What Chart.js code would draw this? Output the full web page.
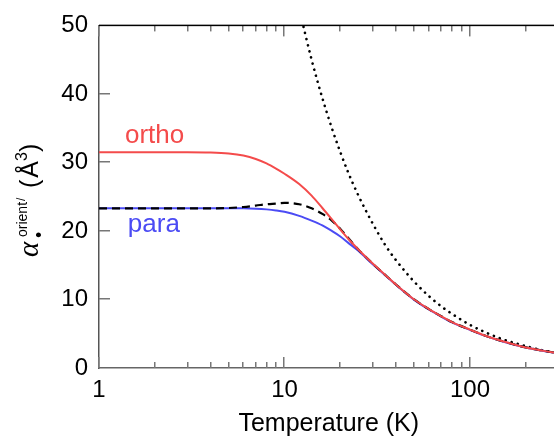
<!DOCTYPE html>
<html>
<head>
<meta charset="utf-8">
<script src="https://cdn.jsdelivr.net/npm/chart.js@4"></script>
<style>
    html, body { margin: 0; padding: 0; background: #fff; overflow: hidden; }
    #wrap { position: relative; width: 560px; height: 439px; }
</style>
</head>
<body>
<div id="wrap"><canvas id="alphaChart"></canvas></div>
<script>
// temperatures (K) shared by the three quantum curves
const temps = [1, 2, 3, 4, 5, 6, 7, 8, 9, 10, 12, 14, 16, 18, 20, 22, 25, 30, 35, 40, 50, 60, 70, 80, 100, 120, 150, 200, 250, 300];
const ortho = [31.5, 31.5, 31.5, 31.45, 31.3, 31.0, 30.5, 29.85, 29.1, 28.35, 26.85, 25.15, 23.35, 21.7, 20.2, 18.9, 17.3, 15.2, 13.55, 12.15, 10.0, 8.6, 7.55, 6.7, 5.6, 4.75, 3.9, 3.0, 2.5, 2.15];
const para = [23.3, 23.3, 23.3, 23.3, 23.3, 23.3, 23.25, 23.15, 23.0, 22.8, 22.2, 21.5, 20.8, 20.0, 19.2, 18.3, 17.1, 15.1, 13.5, 12.1, 9.95, 8.55, 7.5, 6.65, 5.56, 4.72, 3.87, 2.98, 2.48, 2.13];
const total = [23.3, 23.3, 23.3, 23.3, 23.35, 23.5, 23.7, 23.9, 24.0, 24.1, 23.9, 23.3, 22.5, 21.5, 20.3, 19.0, 17.3, 15.2, 13.55, 12.15, 10.0, 8.6, 7.55, 6.7, 5.6, 4.75, 3.9, 3.0, 2.5, 2.15];

// classical (dotted) curve
const classicalTemps = [12, 13, 14, 15, 16, 18, 20, 22, 25, 30, 35, 40, 50, 60, 70, 80, 100, 120, 150, 200, 250, 300];
const classical = [52.5, 48.5, 45.0, 42.0, 39.4, 35.0, 31.5, 28.6, 25.2, 21.0, 17.9, 15.7, 12.6, 10.5, 9.0, 7.9, 6.3, 5.25, 4.2, 3.2, 2.55, 2.2];

const xMajorTicks = [1, 10, 100];
const xMinorTicks = [2, 3, 4, 5, 6, 7, 8, 9, 20, 30, 40, 50, 60, 70, 80, 90, 200, 300];
const yTicks = [0, 10, 20, 30, 40, 50];

// curve labels: [text, T, value, colour]
const curveLabels = [
    ['ortho', 1.38, 32.9, '#f44b4b'],
    ['para', 1.43, 19.8, '#4b4bf4']
];

const FONT = "'Liberation Sans', Arial, sans-serif";

function pairs(xs, ys) {
    return xs.map((x, i) => ({ x: x, y: ys[i] }));
}

function drawTicks(chart) {
    const ctx = chart.ctx;
    const area = chart.chartArea;
    const xs = chart.scales.x;
    const ys = chart.scales.y;
    ctx.save();
    ctx.setLineDash([]);
    ctx.globalAlpha = 1;
    ctx.fillStyle = '#777777';
    xMajorTicks.concat(xMinorTicks).forEach(v => {
        const len = xMajorTicks.indexOf(v) >= 0 ? 11 : 6;
        const px = Math.round(xs.getPixelForValue(v));
        ctx.fillRect(px - 1, area.bottom - len, 1.5, len);
        ctx.fillRect(px - 1, area.top, 1.5, len);
    });
    yTicks.slice(1, -1).forEach(v => {
        const py = Math.round(ys.getPixelForValue(v));
        ctx.fillRect(area.left, py - 1, 11, 1.5);
    });
    ctx.fillStyle = '#000';
    ctx.fillRect(area.left, area.top - 0.75, area.right - area.left, 1.5);
    ctx.restore();
}

function drawTexts(chart) {
    const ctx = chart.ctx;
    const xs = chart.scales.x;
    const ys = chart.scales.y;
    ctx.save();
    // curve labels
    ctx.font = '26px ' + FONT;
    ctx.textBaseline = 'alphabetic';
    ctx.textAlign = 'left';
    curveLabels.forEach(([txt, t, v, col]) => {
        ctx.fillStyle = col;
        ctx.fillText(txt, xs.getPixelForValue(t), ys.getPixelForValue(v));
    });

    // y axis title: alpha_bullet^orient / (A^3)
    ctx.translate(38, 257);
    ctx.rotate(-Math.PI / 2);
    ctx.fillStyle = '#000';
    ctx.font = "italic 29px 'Liberation Serif', 'DejaVu Serif', serif";
    ctx.fillText('\u03b1', 0, 0);
    ctx.font = '18px ' + FONT;
    ctx.fillText('\u2022', 19, 7);
    ctx.font = '14px ' + FONT;
    ctx.fillText('orient', 20, -11);
    ctx.font = '12px ' + FONT;
    ctx.fillText('/', 56, -13);
    ctx.font = '25px ' + FONT;
    let p = 69;
    ctx.fillText('(', p, 0);
    p += ctx.measureText('(').width + 2;
    ctx.fillText('\u00c5', p, 0);
    p += ctx.measureText('\u00c5').width;
    ctx.font = '16px ' + FONT;
    ctx.fillText('3', p, -11);
    p += ctx.measureText('3').width;
    ctx.font = '25px ' + FONT;
    ctx.fillText(')', p, 0);
    ctx.restore();
}

const frameTicks = {
    id: 'frameTicks',
    afterDatasetsDraw(chart) {
        drawTicks(chart);
    },
    afterDraw(chart) {
        drawTexts(chart);
    }
};

new Chart(document.getElementById('alphaChart'), {
    type: 'line',
    data: {
        datasets: [
            {
                label: 'ortho',
                data: pairs(temps, ortho),
                borderColor: '#f44b4b',
                borderWidth: 2,
                pointRadius: 0,
                cubicInterpolationMode: 'monotone'
            },
            {
                label: 'total',
                data: pairs(temps, total),
                borderColor: '#000',
                borderWidth: 2.2,
                borderDash: [8, 5],
                pointRadius: 0,
                cubicInterpolationMode: 'monotone'
            },
            {
                label: 'para',
                data: pairs(temps, para),
                borderColor: '#4b4bf4',
                borderWidth: 2,
                pointRadius: 0,
                cubicInterpolationMode: 'monotone'
            },
            {
                label: 'classical',
                data: pairs(classicalTemps, classical),
                borderColor: '#000',
                borderWidth: 2.6,
                borderDash: [0.1, 6.2],
                borderCapStyle: 'round',
                pointRadius: 0,
                cubicInterpolationMode: 'monotone'
            }
        ]
    },
    options: {
        responsive: true,
        maintainAspectRatio: false,
        animation: false,
        layout: { padding: { top: 22, right: 1.5, left: 0, bottom: 0 } },
        plugins: {
            legend: { display: false },
            tooltip: { enabled: false }
        },
        scales: {
            x: {
                type: 'logarithmic',
                min: 1,
                max: 300,
                afterBuildTicks: scale => {
                    scale.ticks = xMajorTicks.map(v => ({ value: v }));
                },
                afterFit: scale => { scale.height = 71; },
                ticks: {
                    color: '#000',
                    font: { family: FONT, size: 24 },
                    padding: 8,
                    maxRotation: 0,
                    autoSkip: false,
                    callback: v => String(v)
                },
                grid: { drawOnChartArea: false, drawTicks: false },
                border: { color: '#666', width: 1.5 },
                title: {
                    display: true,
                    text: 'Temperature (K)',
                    color: '#000',
                    font: { family: FONT, size: 25 },
                    padding: { top: 2, bottom: 0 }
                }
            },
            y: {
                min: 0,
                max: 50,
                afterBuildTicks: scale => {
                    scale.ticks = yTicks.map(v => ({ value: v }));
                },
                afterFit: scale => { scale.width = 99; },
                ticks: {
                    color: '#000',
                    font: { family: FONT, size: 24 },
                    padding: 11
                },
                grid: { drawOnChartArea: false, drawTicks: false },
                border: { color: '#555', width: 1.5 }
            }
        }
    },
    plugins: [frameTicks]
});
</script>
</body>
</html>
